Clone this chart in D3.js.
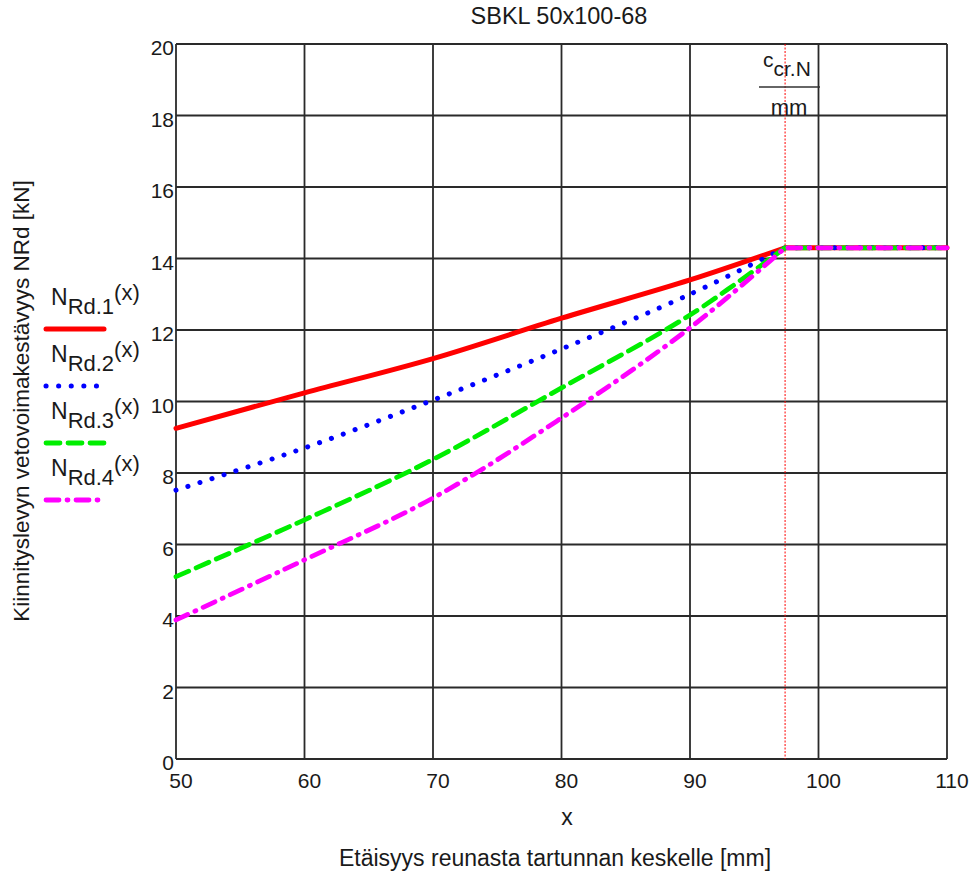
<!DOCTYPE html>
<html><head><meta charset="utf-8">
<script src="https://cdn.jsdelivr.net/npm/d3@7"></script>
<style>body{margin:0;background:#fff}text{font-family:"Liberation Sans",Arial,sans-serif}</style>
</head><body>
<script>
const xValues = [50, 60, 70, 80, 90, 97.4, 110];
const nRd1 = [9.25, 10.24, 11.2, 12.33, 13.4, 14.3, 14.3];
const nRd2 = [7.52, 8.7, 10.04, 11.47, 13.0, 14.3, 14.3];
const nRd3 = [5.1, 6.69, 8.38, 10.38, 12.42, 14.3, 14.3];
const nRd4 = [3.89, 5.57, 7.3, 9.54, 12.06, 14.3, 14.3];
const ccrN = 97.4;
const xTicks = [50, 60, 70, 80, 90, 100, 110];
const yTicks = [0, 2, 4, 6, 8, 10, 12, 14, 16, 18, 20];
const seriesNames = ["1", "2", "3", "4"];
const seriesColors = ["#ff0000", "#0000ff", "#00ee00", "#ff00ff"];

const W = 974, H = 874;
const L = 176, R = 947, T = 44, B = 759;
const svg = d3.select("body").append("svg").attr("width", W).attr("height", H);
const x = d3.scaleLinear().domain([50, 110]).range([L, R]);
const y = d3.scaleLinear().domain([0, 20]).range([B, T]);
const txt = "#1a1a1a";

// grid
const g = svg.append("g");
g.selectAll(".vx").data(xTicks).enter().append("line")
  .attr("x1", d => x(d)).attr("x2", d => x(d)).attr("y1", T).attr("y2", B)
  .attr("stroke", "#2a2a2a").attr("stroke-width", 1.8);
g.selectAll(".hy").data(yTicks).enter().append("line")
  .attr("y1", d => y(d)).attr("y2", d => y(d)).attr("x1", L).attr("x2", R)
  .attr("stroke", "#2a2a2a").attr("stroke-width", 1.8);

// tick labels
svg.selectAll(".yt").data(yTicks).enter().append("text")
  .attr("x", L - 2).attr("y", d => y(d) + 11).attr("text-anchor", "end")
  .attr("font-size", 21).attr("fill", txt).text(d => d);
svg.selectAll(".xt").data(xTicks).enter().append("text")
  .attr("x", d => x(d) + 5).attr("y", B + 29).attr("text-anchor", "middle")
  .attr("font-size", 21).attr("fill", txt).text(d => d);

// critical line
svg.append("line").attr("x1", x(ccrN)).attr("x2", x(ccrN)).attr("y1", T).attr("y2", B)
  .attr("stroke", "#ff0000").attr("stroke-width", 1).attr("stroke-dasharray", "2 1.5");

// series
const allSeries = [nRd1, nRd2, nRd3, nRd4];
const dashes = [null, "0.1 12.5", "14 8", "13 8 1 8"];
const widths = [5, 5, 4.8, 4.8];
const curveLine = d3.line().x(d => x(d[0])).y(d => y(d[1])).curve(d3.curveCatmullRom.alpha(0.5));
allSeries.forEach((s, i) => {
  const pts = xValues.map((xv, k) => [xv, s[k]]);
  const rising = pts.filter(p => p[0] <= ccrN);
  const flat = pts.filter(p => p[0] > ccrN);
  const d = curveLine(rising) + flat.map(p => "L" + x(p[0]) + "," + y(p[1])).join("");
  svg.append("path").attr("d", d).attr("fill", "none").attr("stroke", seriesColors[i])
    .attr("stroke-width", widths[i]).attr("stroke-linecap", "round")
    .attr("stroke-linejoin", "round")
    .attr("stroke-dasharray", dashes[i]);
});

// legend
seriesNames.forEach((n, i) => {
  const ly = 305 + i * 57;
  const t = svg.append("text").attr("x", 51).attr("y", ly).attr("font-size", 23).attr("fill", txt);
  t.append("tspan").text("N");
  t.append("tspan").attr("font-size", 22).attr("dy", 9).text("Rd." + n);
  t.append("tspan").attr("font-size", 22).attr("dy", -14).text("(x)");
  svg.append("line").attr("x1", 46).attr("x2", 104).attr("y1", ly + 24).attr("y2", ly + 24)
    .attr("stroke", seriesColors[i]).attr("stroke-width", widths[i])
    .attr("stroke-linecap", "round").attr("stroke-dasharray", dashes[i]);
});

// top label c_cr.N / mm
const ct = svg.append("text").attr("x", 763).attr("y", 67).attr("font-size", 21).attr("fill", txt);
ct.append("tspan").text("c");
ct.append("tspan").attr("dy", 9).text("cr.N");
svg.append("line").attr("x1", 759).attr("x2", 820).attr("y1", 87).attr("y2", 87)
  .attr("stroke", "#333").attr("stroke-width", 1.6);
svg.append("text").attr("x", 789).attr("y", 115).attr("text-anchor", "middle")
  .attr("font-size", 22).attr("fill", txt).text("mm");

// title and axis labels
svg.append("text").attr("x", 559).attr("y", 24).attr("text-anchor", "middle")
  .attr("font-size", 23.5).attr("fill", txt).text("SBKL 50x100-68");
svg.append("text").attr("x", 567).attr("y", 825).attr("text-anchor", "middle")
  .attr("font-size", 23).attr("fill", txt).text("x");
svg.append("text").attr("x", 555).attr("y", 866).attr("text-anchor", "middle")
  .attr("font-size", 23).attr("fill", txt).text("Etäisyys reunasta tartunnan keskelle [mm]");
svg.append("text").attr("transform", "translate(29,401) rotate(-90)").attr("text-anchor", "middle")
  .attr("font-size", 22.5).attr("fill", txt).text("Kiinnityslevyn vetovoimakestävyys NRd [kN]");
</script>
</body></html>
